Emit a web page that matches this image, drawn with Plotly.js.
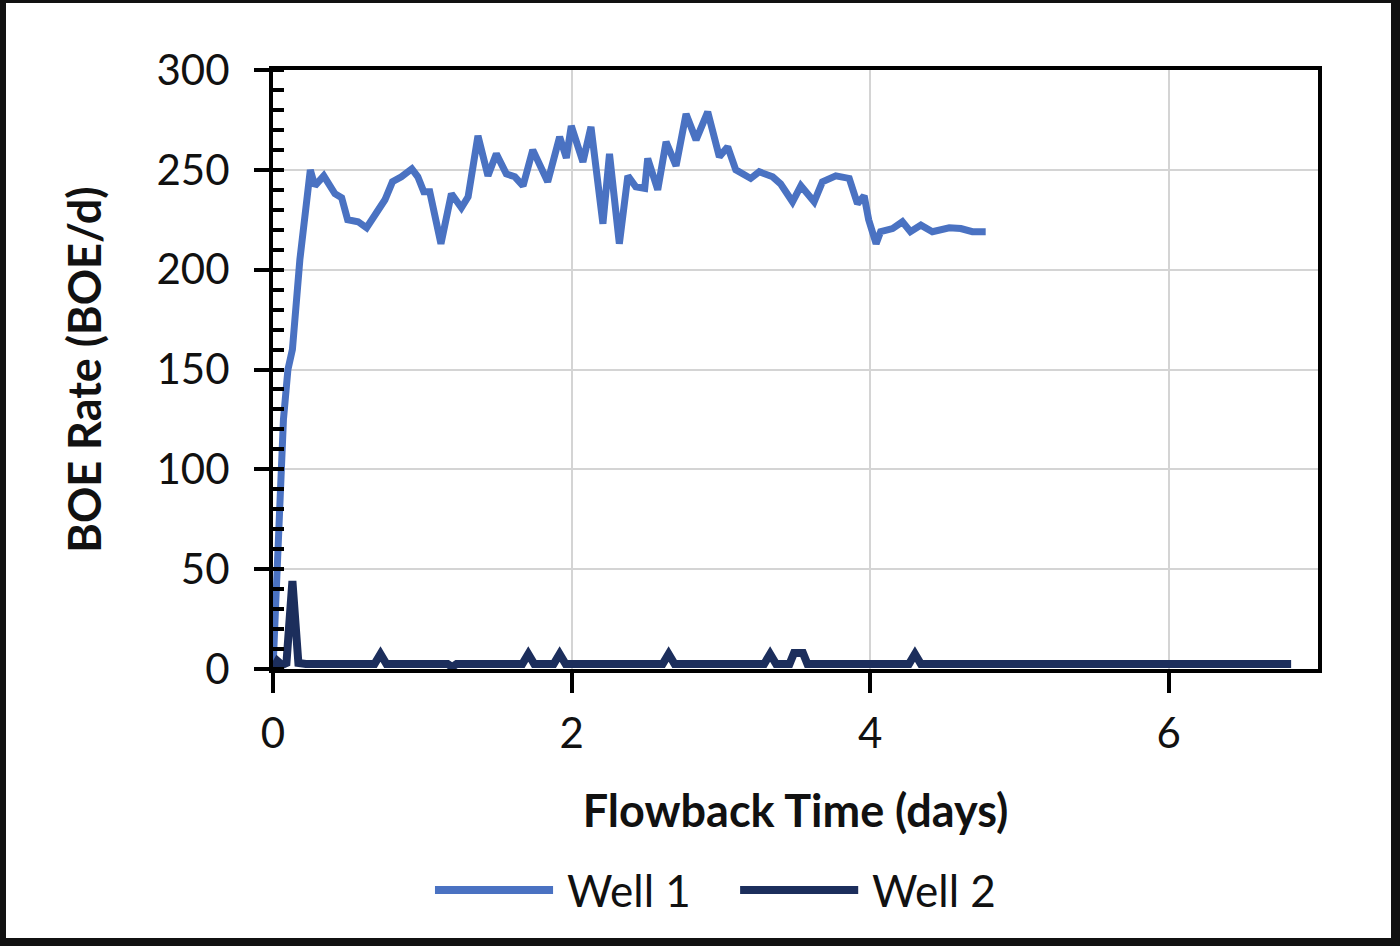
<!DOCTYPE html>
<html>
<head>
<meta charset="utf-8">
<script src="https://cdn.plot.ly/plotly-3.0.1.min.js"></script>
<style>
  body { margin: 0; background: #fff; }
  #myDiv { width: 1400px; height: 946px; }
  #frame {
    position: absolute; left: 0; top: 0; width: 1400px; height: 946px;
    box-sizing: border-box; pointer-events: none;
    border-left: 6px solid #111; border-top: 3px solid #111;
    border-right: 9px solid #111; border-bottom: 8px solid #111;
  }
</style>
</head>
<body>
<div id="myDiv"></div>
<div id="frame"></div>
<script>
// flowback time (days) and BOE rate
var well1Days = [0, 0.03, 0.07, 0.10, 0.13, 0.18, 0.22, 0.25, 0.28, 0.34, 0.415, 0.46, 0.50, 0.57, 0.627,
  0.69, 0.75, 0.80, 0.86, 0.93, 0.97, 1.01, 1.05, 1.125, 1.195, 1.262, 1.307, 1.373, 1.44, 1.496,
  1.563, 1.62, 1.675, 1.74, 1.84, 1.92, 1.965, 1.998, 2.076, 2.13, 2.21, 2.254, 2.32, 2.377, 2.43,
  2.49, 2.51, 2.577, 2.633, 2.70, 2.767, 2.834, 2.912, 2.99, 3.046, 3.10, 3.20, 3.257, 3.347, 3.40,
  3.48, 3.536, 3.625, 3.68, 3.77, 3.86, 3.915, 3.96, 3.99, 4.04, 4.07, 4.15, 4.216, 4.27, 4.34,
  4.417, 4.53, 4.607, 4.685, 4.774];
var well1Rate = [0, 60, 125, 150, 160, 205, 235, 250, 242, 247, 238, 236, 225, 224, 221,
  228, 235, 244, 246.5, 250.5, 246.5, 239, 239, 213, 238, 231, 236.5, 267, 247, 258,
  248, 246.5, 242, 260, 244, 266.5, 256, 272, 254, 271.5, 223, 258, 213, 247, 241.5,
  240.7, 255.7, 240, 264, 252, 278, 265, 279, 256.5, 261.5, 250, 245.7, 249, 246.5, 243,
  234, 242, 234, 244, 247, 245.7, 233, 237, 225, 213, 219, 220.6, 224, 219, 222.3,
  219, 221, 220.6, 219, 219];

var well2Days = [0, 0.03, 0.06, 0.09, 0.13, 0.17, 0.22, 0.68, 0.72, 0.76, 1.17, 1.20, 1.23, 1.67, 1.71,
  1.75, 1.88, 1.92, 1.96, 2.61, 2.65, 2.69, 3.29, 3.33, 3.37, 3.46, 3.49, 3.55, 3.58, 4.26, 4.30,
  4.34, 6.82];
var well2Rate = [0, 4, 2, 3, 44, 3, 2.5, 2.5, 7.5, 2.5, 2.5, 1, 2.5, 2.5, 7.5,
  2.5, 2.5, 7.5, 2.5, 2.5, 7.5, 2.5, 2.5, 7.5, 2.5, 2.5, 8, 8, 2.5, 2.5, 7.5,
  2.5, 2.5];

var seriesNames = ['Well 1', 'Well 2'];
var seriesColors = ['#4a72c2', '#1c2e5c'];
var xTicks = [0, 2, 4, 6];
var yTicks = [0, 50, 100, 150, 200, 250, 300];

var font = 'Lato, "Open Sans", sans-serif';

var trace1 = {
  x: well1Days,
  y: well1Rate,
  type: 'scatter',
  mode: 'lines',
  name: seriesNames[0],
  line: { color: seriesColors[0], width: 7 }
};

var trace2 = {
  x: well2Days,
  y: well2Rate,
  type: 'scatter',
  mode: 'lines',
  name: seriesNames[1],
  line: { color: seriesColors[1], width: 8 }
};

// legend drawn by hand: Excel-style long keys under the axis title
var keyX = [[0.155, 0.268], [0.447, 0.560]];
var legendY = -0.369;
var shapes = [];
var annotations = [];
seriesNames.forEach(function (name, i) {
  shapes.push({
    type: 'line', xref: 'paper', yref: 'paper',
    x0: keyX[i][0], x1: keyX[i][1], y0: legendY, y1: legendY,
    line: { color: seriesColors[i], width: 8 }
  });
  annotations.push({
    xref: 'paper', yref: 'paper', x: keyX[i][1] + 0.011, y: legendY,
    xanchor: 'left', yanchor: 'middle', showarrow: false,
    text: name, font: { size: 44, family: font, color: '#111' }
  });
});

var layout = {
  width: 1400,
  height: 946,
  margin: { l: 273, r: 82, t: 70, b: 277 },
  paper_bgcolor: '#fff',
  plot_bgcolor: '#fff',
  font: { family: font, color: '#111' },
  showlegend: false,
  shapes: shapes,
  annotations: annotations,
  xaxis: {
    range: [0, 7],
    tickvals: xTicks,
    ticks: 'outside', ticklen: 20, tickwidth: 4, tickcolor: '#000',
    tickfont: { size: 42 },
    ticklabelstandoff: 5,
    showline: true, linecolor: '#000', linewidth: 4, mirror: true,
    showgrid: true, gridcolor: '#d4d4d4', gridwidth: 2,
    zeroline: false,
    title: { text: '<b>Flowback Time (days)</b>', font: { size: 45 }, standoff: 40 }
  },
  yaxis: {
    range: [0, 300],
    tickvals: yTicks,
    ticks: 'outside', ticklen: 15, tickwidth: 4, tickcolor: '#000',
    tickfont: { size: 42 },
    ticklabelstandoff: 16,
    minor: { dtick: 10, ticks: 'inside', ticklen: 11, tickwidth: 4, tickcolor: '#000', showgrid: false },
    showline: true, linecolor: '#000', linewidth: 4, mirror: true,
    showgrid: true, gridcolor: '#d4d4d4', gridwidth: 2,
    zeroline: false,
    title: { text: '<b>BOE Rate (BOE/d)</b>', font: { size: 45 }, standoff: 42 }
  }
};

Plotly.newPlot('myDiv', [trace1, trace2], layout, { displayModeBar: false, staticPlot: true });
</script>
</body>
</html>
